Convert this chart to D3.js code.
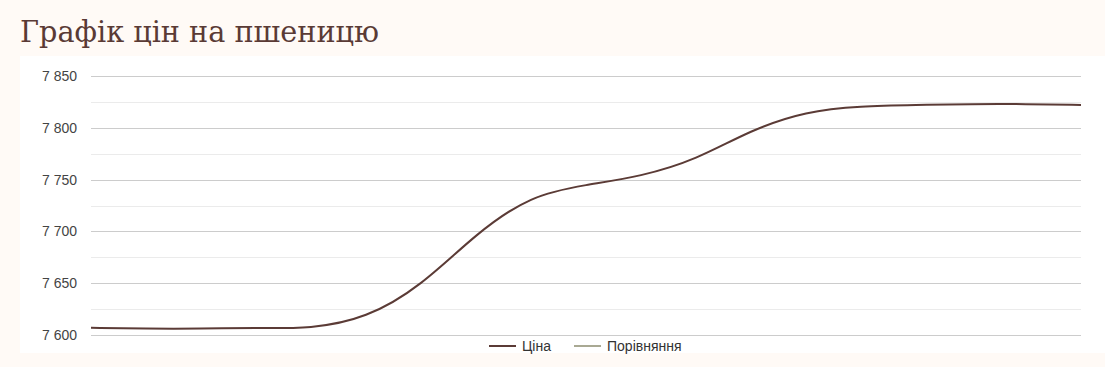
<!DOCTYPE html>
<html>
<head>
<meta charset="utf-8">
<script src="https://cdn.jsdelivr.net/npm/d3@7"></script>
<style>
  body { margin: 0; background: #fffaf6; }
  svg { display: block; }
</style>
</head>
<body>
<div id="chart"></div>
<script>
// wheat price series (index of observation -> price)
const prices = [7607, 7606, 7606, 7607, 7606, 7616, 7647, 7698, 7735, 7745,
  7753, 7769, 7798, 7816, 7821, 7822, 7823, 7823, 7822];
const majorTicks = [7600, 7650, 7700, 7750, 7800, 7850];
const minorTicks = [7625, 7675, 7725, 7775, 7825];
const legendItems = [
  { label: "Ціна", color: "#5b3b36" },
  { label: "Порівняння", color: "#a9a993" }
];

const width = 1105, height = 367;
const margin = { top: 76, right: 24, bottom: 32, left: 91 };

const svg = d3.select("#chart").append("svg")
  .attr("width", width)
  .attr("height", height);

// page + white panel
svg.append("rect").attr("width", width).attr("height", height).attr("fill", "#fffaf6");
svg.append("rect").attr("x", 20).attr("y", 56).attr("width", width - 20).attr("height", 297).attr("fill", "#fff");

svg.append("text")
  .attr("x", 20).attr("y", 42)
  .attr("font-family", "'DejaVu Serif', serif")
  .attr("font-size", 30)
  .attr("fill", "#5a3a35")
  .attr("textLength", 359)
  .attr("lengthAdjust", "spacingAndGlyphs")
  .text("Графік цін на пшеницю");

const x = d3.scaleLinear()
  .domain([0, prices.length - 1])
  .range([margin.left, width - margin.right]);

const y = d3.scaleLinear()
  .domain([7600, 7850])
  .range([height - margin.bottom, margin.top]);

const grid = svg.append("g");
grid.selectAll(".minor")
  .data(minorTicks)
  .join("line")
  .attr("x1", margin.left).attr("x2", width - margin.right)
  .attr("y1", d => Math.round(y(d)) + 0.5).attr("y2", d => Math.round(y(d)) + 0.5)
  .attr("stroke", "#ebebeb");
grid.selectAll(".major")
  .data(majorTicks)
  .join("line")
  .attr("x1", margin.left).attr("x2", width - margin.right)
  .attr("y1", d => Math.round(y(d)) + 0.5).attr("y2", d => Math.round(y(d)) + 0.5)
  .attr("stroke", "#cccccc");

const fmt = d => d3.format(",")(d).replace(",", " ");
svg.append("g").selectAll("text")
  .data(majorTicks)
  .join("text")
  .attr("x", 77)
  .attr("y", d => y(d) + 5)
  .attr("text-anchor", "end")
  .attr("font-family", "Arial, 'Liberation Sans', sans-serif")
  .attr("font-size", 14)
  .attr("fill", "#444")
  .text(fmt);

// smoothed price line
const line = d3.line()
  .x((d, i) => x(i))
  .y(d => y(d))
  .curve(d3.curveBasis);

svg.append("path")
  .datum(prices)
  .attr("d", line)
  .attr("fill", "none")
  .attr("stroke", "#5b3b36")
  .attr("stroke-width", 2);

// legend
const legend = svg.append("g").attr("transform", "translate(489,346)");
const legendX = [0, 85];
legendItems.forEach((d, i) => {
  const g = legend.append("g").attr("transform", `translate(${legendX[i]},0)`);
  g.append("line").attr("x1", 0).attr("x2", 27).attr("y1", 0).attr("y2", 0)
    .attr("stroke", d.color).attr("stroke-width", 2);
  g.append("text").attr("x", 33).attr("y", 5)
    .attr("font-family", "Arial, 'Liberation Sans', sans-serif")
    .attr("font-size", 14).attr("fill", "#333")
    .text(d.label);
});
</script>
</body>
</html>
